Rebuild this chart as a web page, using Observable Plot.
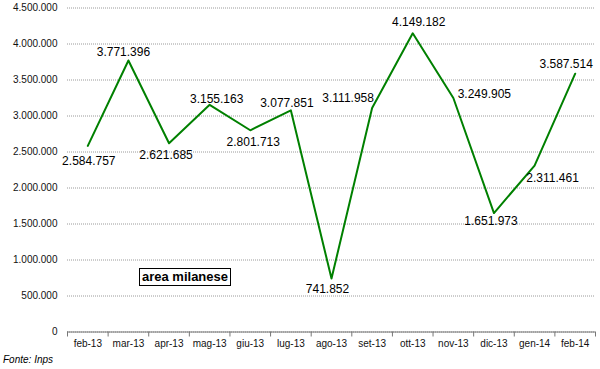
<!DOCTYPE html>
<html>
<head>
<meta charset="utf-8">
<script src="https://cdn.jsdelivr.net/npm/d3@7"></script>
<script src="https://cdn.jsdelivr.net/npm/@observablehq/plot@0.6"></script>
<style>
  html, body { margin: 0; padding: 0; background: #fff; }
  #wrap { position: relative; width: 600px; font-family: "Liberation Sans", Arial, sans-serif; }
  #box { position: absolute; left: 139px; top: 268px; width: 90px; height: 16px; border: 1px solid #000;
         font: bold 13px "Liberation Sans", Arial, sans-serif; line-height: 16px; text-align: center; color: #000; background: #fff; }
  #caption { font: italic 10px "Liberation Sans", Arial, sans-serif; line-height: 16px; height: 17px; padding-left: 3px; color: #000; }
</style>
</head>
<body>
<div id="wrap">
  <div id="chart"></div>
  <div id="box">area milanese</div>
  <div id="caption">Fonte: Inps</div>
</div>
<script>
const months = ["feb-13","mar-13","apr-13","mag-13","giu-13","lug-13","ago-13","set-13","ott-13","nov-13","dic-13","gen-14","feb-14"];
const values = [2584757, 3771396, 2621685, 3155163, 2801713, 3077851, 741852, 3111958, 4149182, 3249905, 1651973, 2311461, 3587514];
const yTicks = [0, 500000, 1000000, 1500000, 2000000, 2500000, 3000000, 3500000, 4000000, 4500000];

const data = months.map((m, i) => ({i, month: m, value: values[i]}));
const boundaries = months.map((m, i) => i - 0.5).concat([months.length - 0.5]);

const itLocale = d3.formatLocale({decimal: ",", thousands: ".", grouping: [3], currency: ["", "€"]});
const fmt = itLocale.format(",d");

// label placement offsets (px) relative to each point
const offsets = [
  [1, 15], [-5, -8], [-3, 12], [7, -6], [3, 12], [-4, -7], [-4, 11],
  [-24, -10], [6, -11], [31, -4], [-3, 8], [18, 13], [-9, -10]
];

const labelMarks = data.map((d, k) => Plot.text([d], {
  x: "i", y: "value", text: r => fmt(r.value),
  dx: offsets[k][0], dy: offsets[k][1],
  fontSize: 12, fill: "#000", textAnchor: "middle"
}));

const chart = Plot.plot({
  width: 600,
  height: 352,
  marginLeft: 67,
  marginRight: 5,
  marginTop: 7.5,
  marginBottom: 20.5,
  style: {fontFamily: "'Liberation Sans', Arial, sans-serif", background: "#fff", overflow: "visible"},
  x: {type: "linear", domain: [-0.5, months.length - 0.5]},
  y: {domain: [0, 4500000]},
  marks: [
    Plot.gridY(yTicks, {stroke: "#9a9a9a", strokeOpacity: 1, strokeDasharray: "1,1"}),
    Plot.axisY({ticks: yTicks, tickSize: 0, tickPadding: 10, tickFormat: fmt, fontSize: 10, fill: "#111", label: null}),
    Plot.axisX({ticks: boundaries, tickSize: 5, tickFormat: () => "", stroke: "#777", label: null}),
    Plot.axisX({ticks: months.map((m, i) => i), tickSize: 0, tickPadding: 8, tickFormat: i => months[i], fontSize: 10, fill: "#111", label: null}),
    Plot.ruleY([0], {stroke: "#777", strokeWidth: 1}),
    Plot.line(data, {x: "i", y: "value", stroke: "#008000", strokeWidth: 2}),
    ...labelMarks
  ]
});
document.getElementById("chart").appendChild(chart);
</script>
</body>
</html>
